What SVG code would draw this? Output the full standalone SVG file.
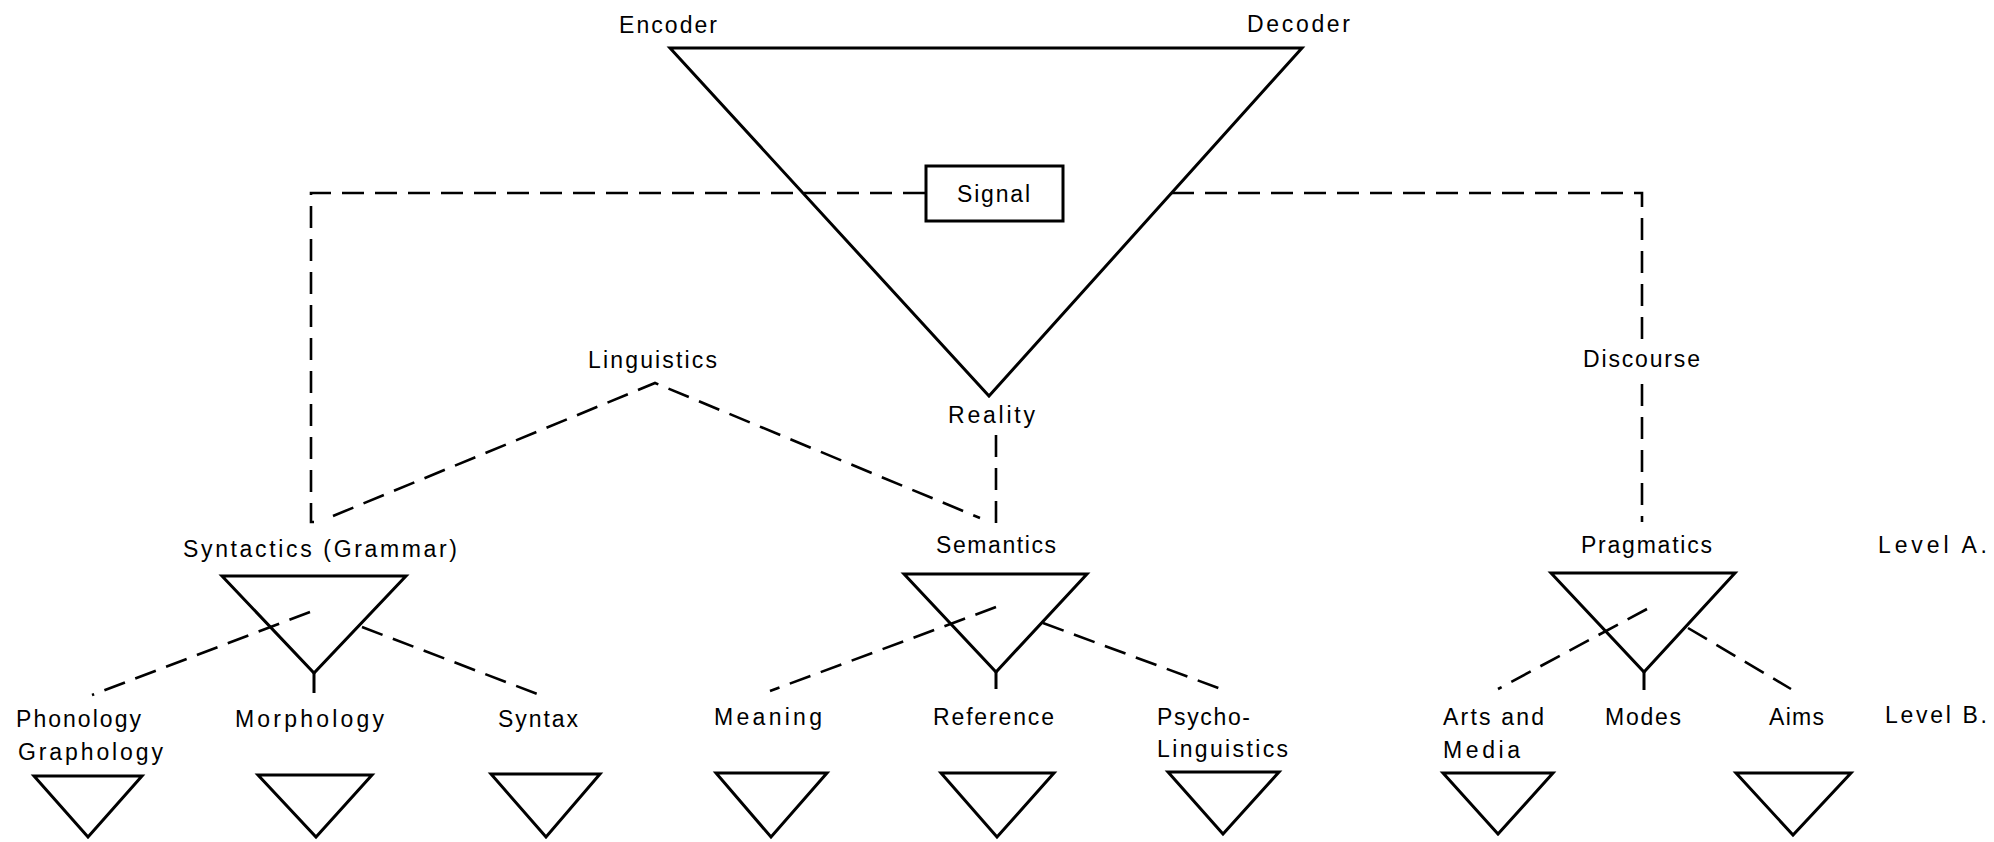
<svg xmlns="http://www.w3.org/2000/svg" width="1994" height="842" viewBox="0 0 1994 842">
<style>
text{font-family:"Liberation Sans","DejaVu Sans",sans-serif;font-size:23px;fill:#000;}
.tri{fill:none;stroke:#000;stroke-width:3;stroke-linejoin:miter;}
.box{fill:#fff;stroke:#000;stroke-width:3;}
.stem{stroke:#000;stroke-width:3;fill:none;}
.dash{fill:none;stroke:#000;stroke-width:2.6;stroke-dasharray:22 11;}
</style>
<rect width="1994" height="842" fill="#fff"/>

<g id="connectors">
  <path class="dash" d="M925,193 H311 V522 H322"/>
  <path class="dash" d="M333,516 L655,383 L980,518"/>
  <path class="dash" d="M996,435 V523 H987"/>
  <path class="dash" d="M1172,193 H1642 V340"/>
  <path class="dash" d="M1642,384 V522"/>
  <path class="dash" d="M310,612 L92,695"/>
  <path class="dash" d="M362,627 L540,695"/>
  <path class="dash" d="M996,607 L770,691"/>
  <path class="dash" d="M1043,623 L1221,689"/>
  <path class="dash" d="M1647,609 L1498,689"/>
  <path class="dash" d="M1688,628 L1791,689"/>
</g>

<g id="communication-triangle">
  <polygon class="tri" points="670,48 1302,48 989,396"/>
  <text x="619" y="33" textLength="98" lengthAdjust="spacing">Encoder</text>
  <text x="1247" y="32" textLength="103" lengthAdjust="spacing">Decoder</text>
  <text x="948" y="423" textLength="87" lengthAdjust="spacing">Reality</text>
</g>

<g id="signal">
  <rect class="box" x="926" y="166" width="137" height="55"/>
  <text x="957" y="202" textLength="73" lengthAdjust="spacing">Signal</text>
</g>

<g id="linguistics">
  <text x="588" y="368" textLength="129" lengthAdjust="spacing">Linguistics</text>
</g>

<g id="discourse">
  <text x="1583" y="367" textLength="117" lengthAdjust="spacing">Discourse</text>
</g>

<g id="syntactics">
  <text x="183" y="557" textLength="274" lengthAdjust="spacing">Syntactics (Grammar)</text>
  <polygon class="tri" points="222,576 406,576 314,673"/>
  <line class="stem" x1="314" y1="673" x2="314" y2="693"/>
</g>

<g id="semantics">
  <text x="936" y="553" textLength="120" lengthAdjust="spacing">Semantics</text>
  <polygon class="tri" points="904,574 1087,574 996,672"/>
  <line class="stem" x1="996" y1="672" x2="996" y2="689"/>
</g>

<g id="pragmatics">
  <text x="1581" y="553" textLength="131" lengthAdjust="spacing">Pragmatics</text>
  <polygon class="tri" points="1551,573 1735,573 1644,672"/>
  <line class="stem" x1="1644" y1="672" x2="1644" y2="690"/>
</g>

<g id="level-a">
  <text x="1878" y="553" textLength="109" lengthAdjust="spacing">Level A.</text>
</g>
<g id="level-b">
  <text x="1885" y="723" textLength="102" lengthAdjust="spacing">Level B.</text>
</g>

<g id="phonology">
  <text x="16" y="727" textLength="125" lengthAdjust="spacing">Phonology</text>
  <text x="18" y="760" textLength="145" lengthAdjust="spacing">Graphology</text>
  <polygon class="tri" points="34,776 142,776 88,837"/>
</g>

<g id="morphology">
  <text x="235" y="727" textLength="149" lengthAdjust="spacing">Morphology</text>
  <polygon class="tri" points="258,775 372,775 316,837"/>
</g>

<g id="syntax">
  <text x="498" y="727" textLength="80" lengthAdjust="spacing">Syntax</text>
  <polygon class="tri" points="491,774 600,774 546,837"/>
</g>

<g id="meaning">
  <text x="714" y="725" textLength="108" lengthAdjust="spacing">Meaning</text>
  <polygon class="tri" points="716,773 827,773 771,837"/>
</g>

<g id="reference">
  <text x="933" y="725" textLength="121" lengthAdjust="spacing">Reference</text>
  <polygon class="tri" points="941,773 1054,773 997,837"/>
</g>

<g id="psycholinguistics">
  <text x="1157" y="725" textLength="93" lengthAdjust="spacing">Psycho-</text>
  <text x="1157" y="757" textLength="131" lengthAdjust="spacing">Linguistics</text>
  <polygon class="tri" points="1168,772 1279,772 1223,834"/>
</g>

<g id="arts-and-media">
  <text x="1443" y="725" textLength="101" lengthAdjust="spacing">Arts and</text>
  <text x="1443" y="758" textLength="77" lengthAdjust="spacing">Media</text>
  <polygon class="tri" points="1443,773 1553,773 1498,834"/>
</g>

<g id="modes">
  <text x="1605" y="725" textLength="76" lengthAdjust="spacing">Modes</text>
</g>

<g id="aims">
  <text x="1769" y="725" textLength="55" lengthAdjust="spacing">Aims</text>
  <polygon class="tri" points="1736,773 1851,773 1793,835"/>
</g>
</svg>
